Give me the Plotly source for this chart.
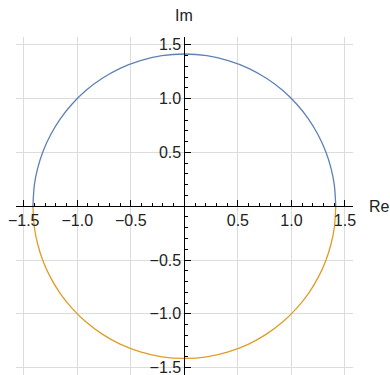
import plotly.graph_objects as go

# upper half of the curve (Im >= 0)
re_upper = [-1.414, -1.40, -1.37, -1.32, -1.25, -1.16, -1.05, -0.92, -0.77, -0.60, -0.41, -0.21, 0.0,
            0.21, 0.41, 0.60, 0.77, 0.92, 1.05, 1.16, 1.25, 1.32, 1.37, 1.40, 1.414]
im_upper = [0.0, 0.200, 0.351, 0.508, 0.661, 0.809, 0.947, 1.074, 1.186, 1.281, 1.353, 1.399, 1.414,
            1.399, 1.353, 1.281, 1.186, 1.074, 0.947, 0.809, 0.661, 0.508, 0.351, 0.200, 0.0]

# lower half (Im <= 0)
re_lower = [-1.414, -1.40, -1.37, -1.32, -1.25, -1.16, -1.05, -0.92, -0.77, -0.60, -0.41, -0.21, 0.0,
            0.21, 0.41, 0.60, 0.77, 0.92, 1.05, 1.16, 1.25, 1.32, 1.37, 1.40, 1.414]
im_lower = [0.0, -0.200, -0.351, -0.508, -0.661, -0.809, -0.947, -1.074, -1.186, -1.281, -1.353, -1.399, -1.414,
            -1.399, -1.353, -1.281, -1.186, -1.074, -0.947, -0.809, -0.661, -0.508, -0.351, -0.200, 0.0]

tick_vals = [-1.5, -1.0, -0.5, 0.5, 1.0, 1.5]
tick_text = ["−1.5", "−1.0", "−0.5", "0.5", "1.0", "1.5"]

x_range = [-1.572, 1.575]
y_range = [-1.568, 1.572]

fig = go.Figure()
fig.add_trace(go.Scatter(x=re_upper, y=im_upper, mode="lines", line=dict(color="#5E81B5", width=1.3, shape="spline")))
fig.add_trace(go.Scatter(x=re_lower, y=im_lower, mode="lines", line=dict(color="#E19C24", width=1.3, shape="spline")))

axis_common = dict(
    tickmode="array", tickvals=tick_vals, ticktext=tick_text,
    showgrid=True, gridcolor="#DCDCDC", gridwidth=1, zeroline=False,
    showline=True, linecolor="black", linewidth=1,
    ticks="inside", ticklen=6, tickcolor="black", tickwidth=1,
    minor=dict(tickmode="linear", tick0=0, dtick=0.1, ticks="inside", ticklen=3,
               tickcolor="black", showgrid=False),
    tickfont=dict(family="Liberation Sans", size=16, color="#222"),
    anchor="free", fixedrange=True, automargin=False, ticklabeloverflow="allow",
)

fig.update_layout(
    width=390, height=375,
    margin=dict(l=16, r=37, t=37, b=0),
    plot_bgcolor="white", paper_bgcolor="white",
    showlegend=False,
    xaxis=dict(axis_common, range=x_range, side="bottom",
               position=(0 - y_range[0]) / (y_range[1] - y_range[0])),
    yaxis=dict(axis_common, range=y_range, side="left",
               position=(0 - x_range[0]) / (x_range[1] - x_range[0])),
    annotations=[
        dict(text="Re", x=1.0, y=0, xref="paper", yref="y", xanchor="left", yanchor="middle",
             xshift=14, showarrow=False, font=dict(family="Liberation Sans", size=16, color="#222")),
        dict(text="Im", x=0, y=1.0, xref="x", yref="paper", xanchor="center", yanchor="bottom",
             yshift=11, showarrow=False, font=dict(family="Liberation Sans", size=16, color="#222")),
    ],
)

# drop the default 8px page margin so the figure fills the window
fig.write_html("out.html", config={"displayModeBar": False},
               post_script="document.body.style.margin = '0';")
